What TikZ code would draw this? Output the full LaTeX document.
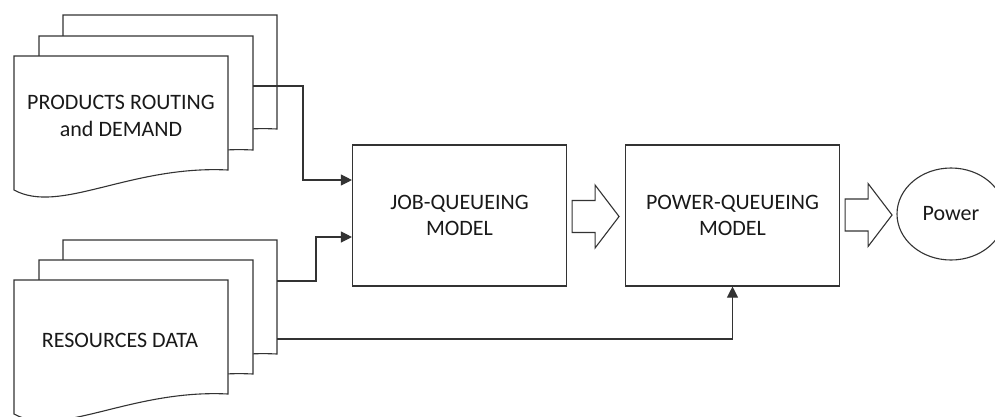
\documentclass[tikz,border=0pt]{standalone}
\usepackage{fontspec}
\setmainfont{Carlito}
\usetikzlibrary{arrows.meta,calc,shapes.geometric}

% one sheet of a document stack: flat top, wavy bottom edge
\newcommand\docsheet[2]{%
  \coordinate (#1) at (#2);
  \begin{scope}[shift={(#1)}]
    \filldraw[sheet] (0,0) -- (214,0) -- (214,114)
      .. controls (116,109) and (46,159) .. (0,134) -- cycle;
  \end{scope}}

\tikzset{
  ink/.style={draw=black!80, line width=1.1pt},
  sheet/.style={ink, fill=white},
  label/.style={font=\fontsize{22}{26.8}\selectfont, align=center, text=black!90, inner sep=0pt},
  modelbox/.style={ink, label, minimum width=214pt, minimum height=141pt},
  conn/.style={ink, -{Triangle[length=11pt,width=11pt]}},
  fatarrow/.pic={\draw[ink, fill=white, line join=miter]
      (0,-16) -- (23,-16) -- (23,-31.5) -- (47,0) -- (23,31.5) -- (23,16) -- (0,16) -- cycle;}
}

\begin{document}
\begin{tikzpicture}[x=1pt, y=-1pt]
  \clip (0,0) rectangle (995,416);
  \fill[white] (0,0) rectangle (995,416);

  % products routing and demand stack
  \docsheet{prodB}{63,15}
  \docsheet{prodM}{39,36}
  \docsheet{prodF}{14,56}
  \node[label] (prodT) at (121,116) {PRODUCTS ROUTING\\and DEMAND};

  % resources data stack
  \docsheet{resB}{63,240}
  \docsheet{resM}{39,260}
  \docsheet{resF}{14,280}
  \node[label] (resT) at (120,340) {RESOURCES DATA};

  % models
  \node[modelbox] (job) at (459.5,215.5) {JOB-QUEUEING\\MODEL};
  \node[modelbox] (pq)  at (732.5,215.5) {POWER-QUEUEING\\MODEL};
  \node[ellipse, ink, label, minimum width=108pt, minimum height=92pt] (pow) at (951,214) {Power};

  % wide arrows between stages
  \pic at ($(job.east)+(5,1)$) {fatarrow};
  \pic at ($(pq.east)+(5,-0.5)$) {fatarrow};

  % data feeds
  \coordinate (s1) at ($(prodM)+(214,50)$);
  \coordinate (s2) at ($(resB)+(214,41)$);
  \coordinate (s3) at ($(resB)+(214,99)$);
  \coordinate (j1) at ($(job.west)+(0,-35.5)$);
  \coordinate (j2) at ($(job.west)+(0,21.5)$);

  \draw[conn] (s1) -| ([xshift=-49pt]j1) -- (j1);
  \draw[conn] (s2) -| ([xshift=-36pt]j2) -- (j2);
  \draw[conn] (s3) -| (pq.south);
\end{tikzpicture}
\end{document}
